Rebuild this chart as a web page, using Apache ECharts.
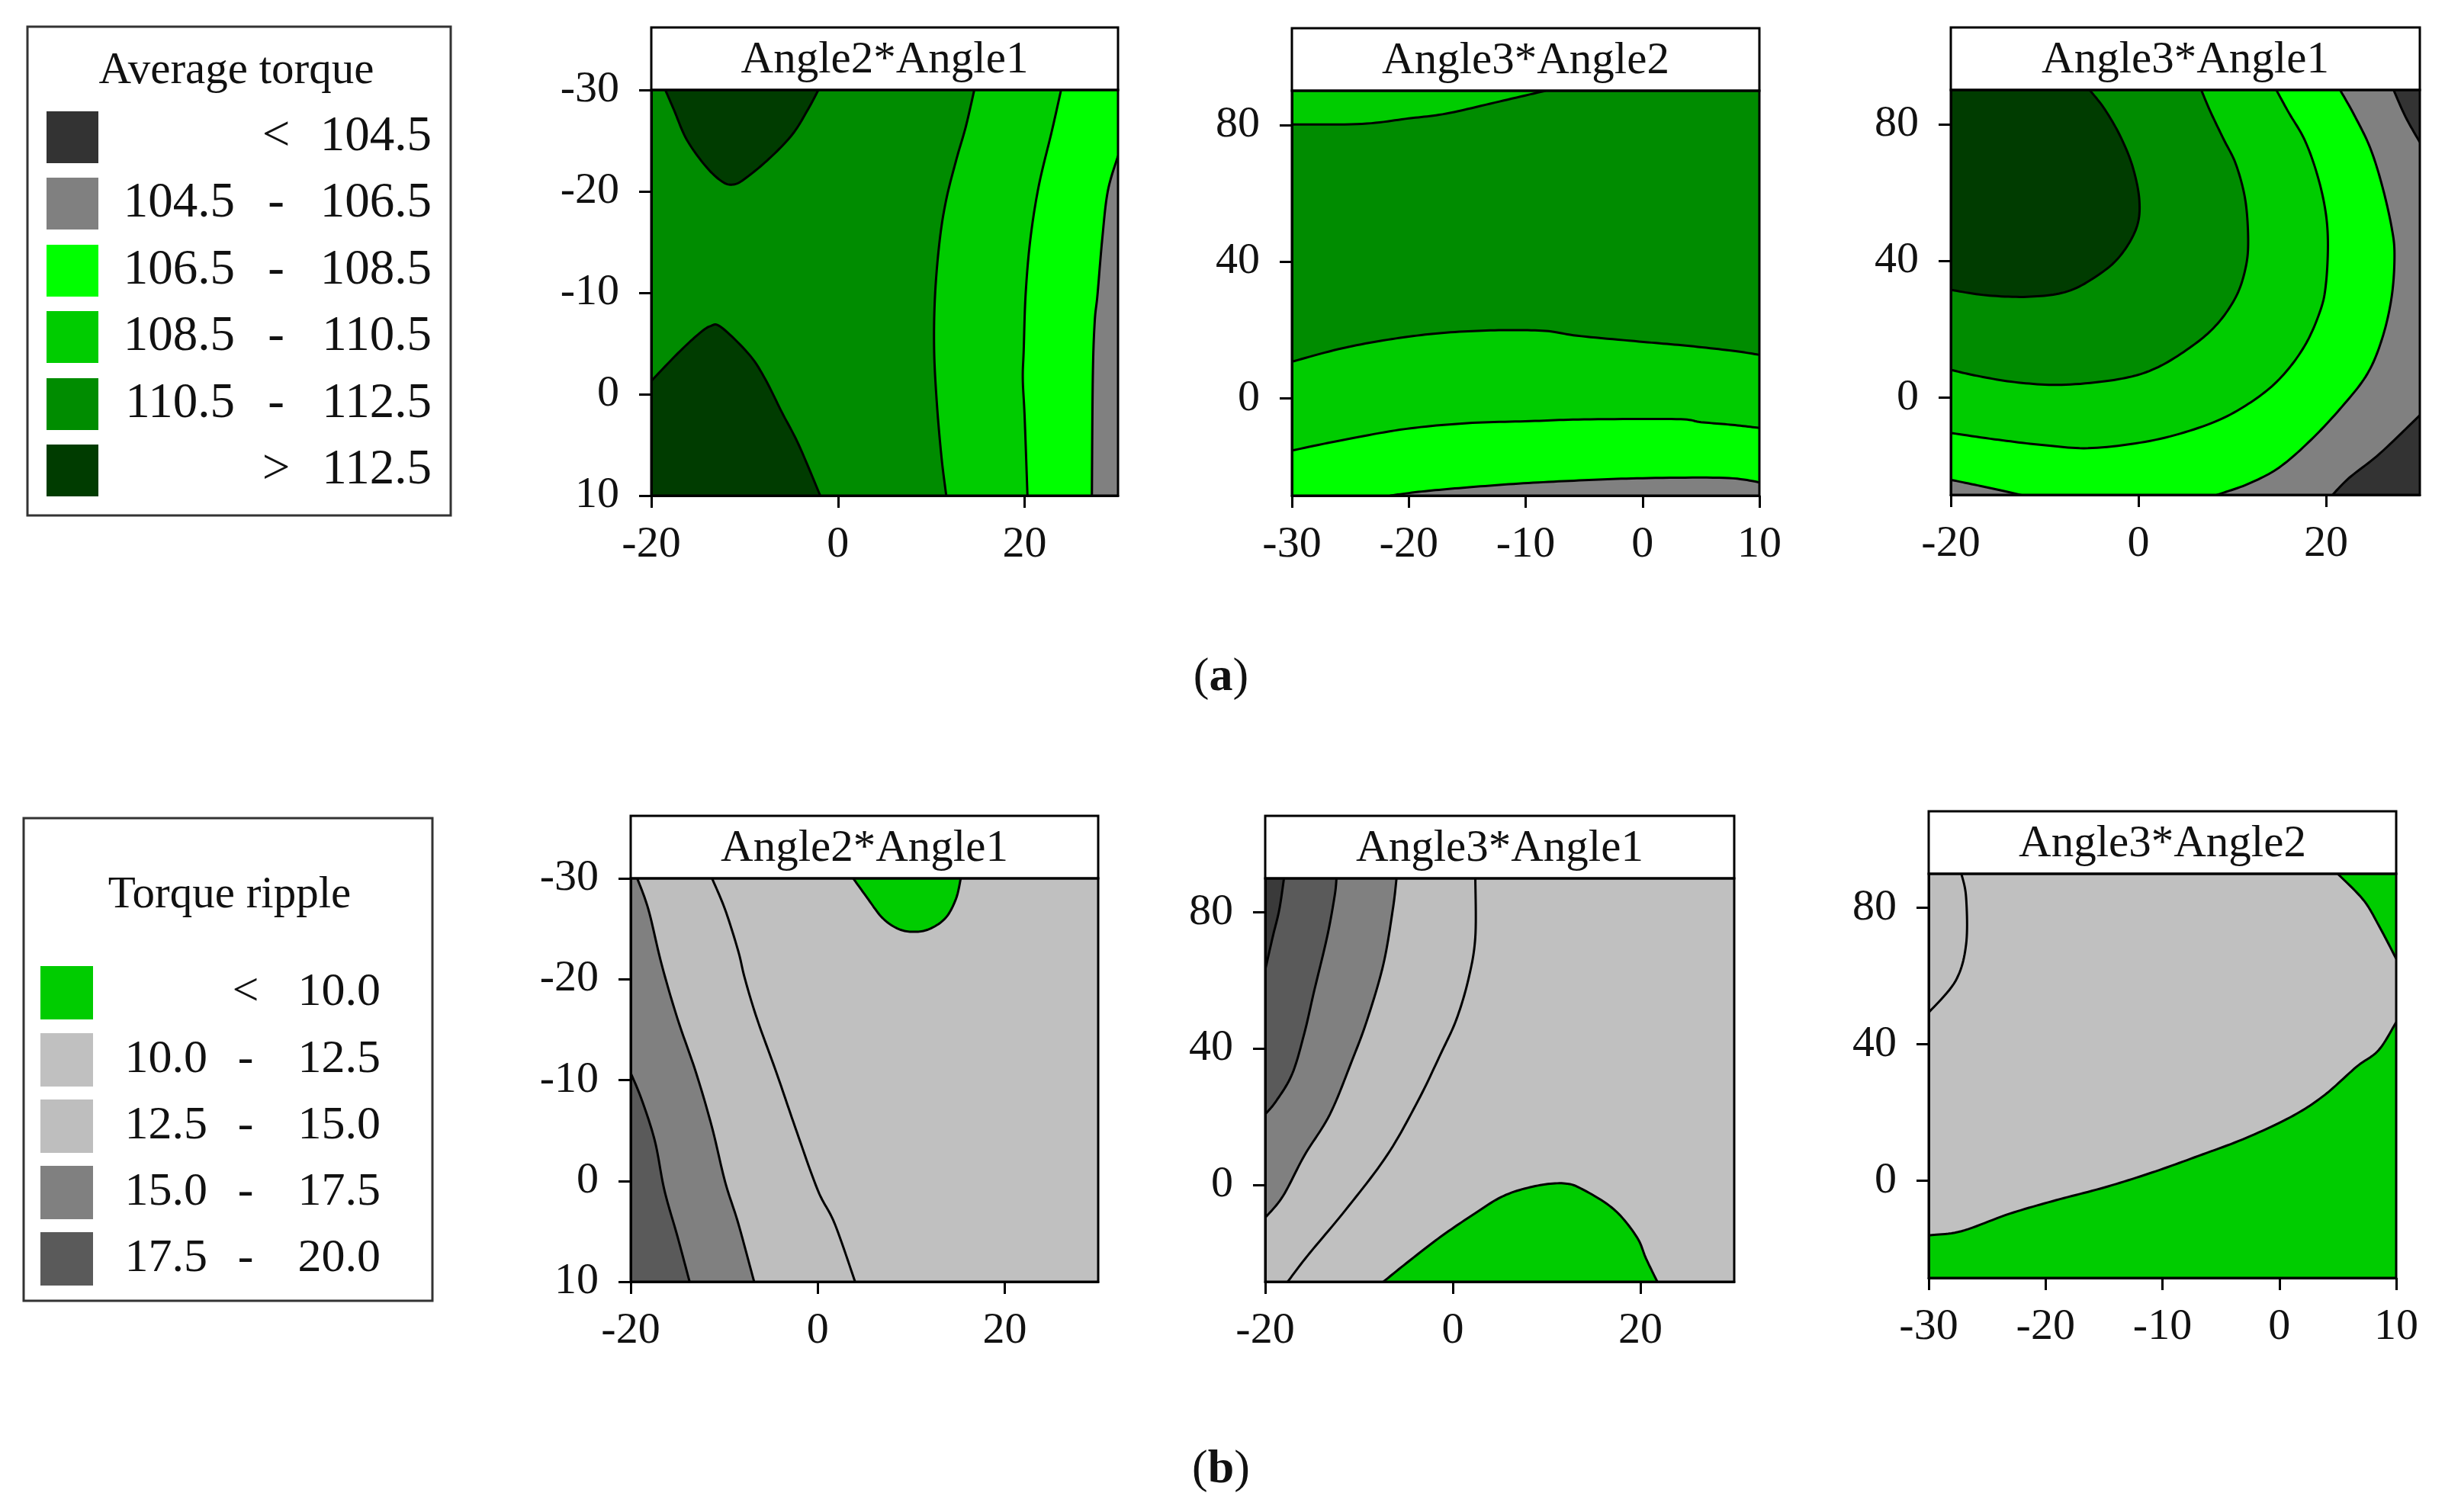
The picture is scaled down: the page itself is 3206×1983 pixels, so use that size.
<!DOCTYPE html>
<html>
<head>
<meta charset="utf-8">
<script src="https://cdn.jsdelivr.net/npm/echarts@6/dist/echarts.min.js"></script>
<style>
  html, body { margin: 0; padding: 0; background: #fff; }
  #main { width: 3206px; height: 1983px; }
</style>
</head>
<body>
<div id="main"></div>
<script>
// legend categories
const torqueLow = ['', '104.5', '106.5', '108.5', '110.5', ''];
const torqueSign = ['<', '-', '-', '-', '-', '>'];
const torqueHigh = ['104.5', '106.5', '108.5', '110.5', '112.5', '112.5'];
const rippleLow = ['', '10.0', '12.5', '15.0', '17.5'];
const rippleSign = ['<', '-', '-', '-', '-'];
const rippleHigh = ['10.0', '12.5', '15.0', '17.5', '20.0'];

// panels
const panelTitles = ['Angle2*Angle1', 'Angle3*Angle2', 'Angle3*Angle1', 'Angle2*Angle1', 'Angle3*Angle1', 'Angle3*Angle2'];
const xRanges = [[-20, 30], [-30, 10], [-20, 30], [-20, 30], [-20, 30], [-30, 10]];
const yRanges = [[-30, 10], [-28.5, 90], [-28.5, 90], [-30, 10], [-28.5, 90], [-28.5, 90]];
const xTicks = [[-20, 0, 20], [-30, -20, -10, 0, 10], [-20, 0, 20], [-20, 0, 20], [-20, 0, 20], [-30, -20, -10, 0, 10]];
const yTicks = [[-30, -20, -10, 0, 10], [0, 40, 80], [0, 40, 80], [-30, -20, -10, 0, 10], [0, 40, 80], [0, 40, 80]];
const yInverse = [true, false, false, true, false, false];

// contour regions: level index, boundary curve (edge) and border points closing it
const a1Base = 4;
const a1Regions = [
  { level: 5, edge: [[-18.5, -30], [-17.6, -28.1], [-16.2, -25.1], [-14.1, -22.4], [-12.3, -20.9], [-11.1, -20.7], [-9.9, -21.3], [-7.4, -23.2], [-4.9, -25.6], [-3.2, -28.1], [-2.1, -30]], close: [] },
  { level: 5, edge: [[-20, -1.3], [-17.3, -3.9], [-15.1, -5.8], [-13.7, -6.7], [-12.5, -6.6], [-9.5, -3.9], [-7.8, -1.5], [-6.0, 1.8], [-4.2, 5.0], [-1.9, 10]], close: [[-20, 10]] },
  { level: 3, edge: [[14.6, -30], [13.7, -26.4], [12.7, -23.2], [11.6, -19.2], [10.9, -15.2], [10.4, -9.8], [10.3, -4.4], [10.6, 1.0], [11.1, 6.3], [11.6, 10]], close: [[30, 10], [30, -30]] },
  { level: 2, edge: [[23.9, -30], [22.9, -25.9], [21.5, -20.5], [20.6, -15.2], [20.1, -9.8], [19.9, -4.4], [19.8, -1.5], [20.0, 2.3], [20.3, 10]], close: [[30, 10], [30, -30]] },
  { level: 1, edge: [[30, -23.5], [28.9, -20.0], [28.3, -15.2], [27.8, -9.8], [27.5, -7.1], [27.3, -1.7], [27.2, 10]], close: [[30, 10]] }
];

const a2Base = 4;
const a2Regions = [
  { level: 3, edge: [[-30, 80.1], [-24, 80.3], [-20, 81.9], [-16.8, 83.3], [-12.3, 86.8], [-8.3, 90]], close: [[-30, 90]] },
  { level: 3, edge: [[-30, 10.7], [-25.6, 14.7], [-21.1, 17.5], [-16.8, 19.2], [-12.3, 19.9], [-8.3, 19.7], [-5.6, 18.3], [-0.3, 16.6], [3.7, 15.4], [7.7, 13.9], [10, 12.7]], close: [[10, -28.5], [-30, -28.5]] },
  { level: 2, edge: [[-30, -15.3], [-25.6, -12.2], [-20.3, -9.0], [-15, -7.3], [-9.6, -6.7], [-5, -6.2], [2.9, -6.1], [5, -7.0], [7.7, -7.8], [10, -8.7]], close: [[10, -28.5], [-30, -28.5]] },
  { level: 1, edge: [[-21.6, -28.5], [-18.9, -27.3], [-15, -26.1], [-10.2, -24.9], [-5, -24.0], [0, -23.4], [7, -23.3], [10, -24.6]], close: [[10, -28.5]] }
];

const a3Base = 1;
const a3Regions = [
  { level: 0, edge: [[27.2, 90], [28.5, 82], [30, 74.7]], close: [[30, 90]] },
  { level: 0, edge: [[30, -5.2], [25.7, -16.5], [22.4, -23.7], [20.2, -30]], close: [[30, -30]] },
  { level: 2, edge: [[21.5, 90], [23, 82.7], [24.7, 73.1], [26, 61.8], [27, 49.7], [27.3, 41.6], [27, 29.5], [26, 17.4], [24.4, 6.9], [21.7, -2.7], [18.4, -12.4], [15, -20.5], [11.7, -25.3], [8.4, -28.5], [7.1, -30]], close: [[-20, -30], [-20, 90]] },
  { level: 1, edge: [[-20, -24.1], [-16.5, -26.1], [-13.2, -28.1], [-10.5, -30]], close: [[-20, -30]] },
  { level: 3, edge: [[14.7, 90], [16, 83.5], [17.7, 75.5], [19, 65.8], [19.9, 55.3], [20.2, 45.6], [20, 33.5], [19.4, 25.5], [17.7, 15], [15, 5.3], [11.7, -1.9], [7.7, -7.6], [1.8, -12.4], [-4.9, -14.8], [-9.9, -14], [-14.9, -12.4], [-20, -10.4]], close: [[-20, 90]] },
  { level: 4, edge: [[6.7, 90], [7.7, 83.5], [9.1, 75.5], [10.4, 68.2], [11.4, 57.7], [11.7, 45.6], [11.4, 37.6], [10.4, 29.5], [8.4, 21.5], [5.7, 15], [1.8, 8.5], [-2.2, 5.3], [-8.2, 3.7], [-13.2, 4.5], [-17.5, 6.5], [-20, 8.1]], close: [[-20, 90]] },
  { level: 5, edge: [[-5.2, 90], [-3.6, 84.4], [-1.9, 76.3], [-0.6, 67.4], [0.1, 57.7], [-0.2, 49.7], [-1.9, 41.6], [-4.2, 36], [-7.5, 31.1], [-11.5, 29.5], [-16.2, 29.9], [-20, 31.5]], close: [[-20, 90]] }
];

const b1Base = 1;
const b1Regions = [
  { level: 2, edge: [[-11.3, -30], [-9.9, -26.9], [-8.5, -22.8], [-7.8, -20.1], [-6.5, -16.1], [-4.4, -10.7], [-2.4, -5.3], [0, 0.9], [1.8, 4.2], [4.0, 10]], close: [[-20, 10], [-20, -30]] },
  { level: 3, edge: [[-19.3, -30], [-18.1, -26.9], [-16.7, -21.5], [-15, -16.1], [-13, -10.7], [-11.3, -5.3], [-9.9, 0.1], [-8.5, 4.2], [-6.8, 10]], close: [[-20, 10], [-20, -30]] },
  { level: 4, edge: [[-20, -10.7], [-18.8, -8.0], [-17.4, -3.9], [-16.4, 0.9], [-15, 5.5], [-13.7, 10]], close: [[-20, 10]] },
  { level: 0, edge: [[3.8, -30], [5.2, -28.2], [6.9, -26.1], [8.6, -25], [10.3, -24.7], [12, -25], [13.7, -26.1], [14.8, -28], [15.3, -30]], close: [] }
];

const b2Base = 1;
const b2Regions = [
  { level: 2, edge: [[2.4, 90], [2.4, 72.8], [1.7, 60.8], [0.4, 48.7], [-1.3, 38.4], [-3.7, 24.7], [-7, 8.7], [-11.4, -7.3], [-15.5, -20.9], [-17.6, -28.5]], close: [[-20, -28.5], [-20, 90]] },
  { level: 3, edge: [[-6, 90], [-6.4, 80.8], [-7.4, 64.8], [-9.1, 48.7], [-10.7, 36.8], [-13.1, 20.7], [-15.8, 8.7], [-18.1, -3.3], [-20, -9.7]], close: [[-20, 90]] },
  { level: 4, edge: [[-12.4, 90], [-12.6, 84.8], [-13.4, 72.8], [-14.8, 56.7], [-15.8, 44.8], [-17.1, 32.7], [-18.8, 24.7], [-20, 20.7]], close: [[-20, 90]] },
  { level: 5, edge: [[-18, 90], [-18.5, 80.8], [-19.2, 72.8], [-20, 63.1]], close: [[-20, 90]] },
  { level: 0, edge: [[-7.4, -28.5], [-4.7, -22.5], [-1.3, -15.3], [2.1, -8.9], [5.4, -3.3], [8.8, -0.4], [11.8, 0.4], [13.8, -1.3], [17.2, -7.3], [19.6, -15.3], [20.6, -21.7], [21.8, -28.5]], close: [] }
];

const b3Base = 1;
const b3Regions = [
  { level: 2, edge: [[-27.2, 90], [-26.8, 83.1], [-26.8, 69.3], [-27.7, 58.6], [-30, 49.3]], close: [[-30, 90]] },
  { level: 0, edge: [[5, 90], [7.2, 82.3], [8.5, 74.9], [10, 65.1]], close: [[10, 90]] },
  { level: 0, edge: [[-30, -16.0], [-27.2, -14.8], [-23.1, -9.7], [-19.1, -5.7], [-15, -2.0], [-10.9, 2.4], [-6.9, 7.3], [-2.8, 12.6], [1.2, 19.1], [3.9, 25.2], [6.6, 33.4], [8.5, 38.3], [10, 46.5]], close: [[10, -28.5], [-30, -28.5]] }
];

const panelBase = [a1Base, a2Base, a3Base, b1Base, b2Base, b3Base];
const panelRegions = [a1Regions, a2Regions, a3Regions, b1Regions, b2Regions, b3Regions];

// styles
const torqueColors = ['#333333', '#808080', '#00ff00', '#00cc00', '#008c00', '#003c00'];
const rippleColors = ['#00cc00', '#c0c0c0', '#bebebe', '#808080', '#5a5a5a', '#3a3a3a'];
const panelColors = [torqueColors, torqueColors, torqueColors, rippleColors, rippleColors, rippleColors];
const FONT = 'Liberation Serif';

const layouts = [
  { left: 854, top: 118, width: 612, height: 532 },
  { left: 1694, top: 119, width: 613, height: 531 },
  { left: 2558, top: 118, width: 615, height: 531 },
  { left: 827, top: 1152, width: 613, height: 529 },
  { left: 1659, top: 1152, width: 615, height: 529 },
  { left: 2529, top: 1146, width: 613, height: 530 }
];
const TITLE_H = 82;

const chart = echarts.init(document.getElementById('main'));

// Catmull-Rom through the read boundary points, in pixel space
function smoothLine(pts) {
  const n = pts.length;
  if (n < 3) return pts;
  const out = [];
  for (let i = 0; i < n - 1; i++) {
    const p0 = pts[Math.max(i - 1, 0)], p1 = pts[i], p2 = pts[i + 1], p3 = pts[Math.min(i + 2, n - 1)];
    for (let s = 0; s < 12; s++) {
      const t = s / 12, t2 = t * t, t3 = t2 * t;
      const f = k => 0.5 * (2 * p1[k] + (p2[k] - p0[k]) * t + (2 * p0[k] - 5 * p1[k] + 4 * p2[k] - p3[k]) * t2 + (3 * p1[k] - p0[k] - 3 * p2[k] + p3[k]) * t3);
      out.push([f(0), f(1)]);
    }
  }
  out.push(pts[n - 1]);
  return out;
}

function makeRender(regions, colors) {
  return function (params, api) {
    const r = regions[params.dataIndex];
    const line = smoothLine(r.edge.map(p => api.coord(p)));
    const poly = line.concat(r.close.map(p => api.coord(p)));
    return {
      type: 'group',
      children: [
        { type: 'polygon', z2: params.dataIndex, shape: { points: poly }, style: { fill: colors[r.level] } },
        { type: 'polyline', z2: 100 + params.dataIndex, shape: { points: line }, style: { stroke: '#000', lineWidth: 3, fill: 'none' } }
      ]
    };
  };
}

function textEl(text, x, y, size, align) {
  return {
    type: 'text', x: x, y: y, z: 80, silent: true,
    style: {
      text: text, fontSize: size, fontFamily: FONT, fill: '#111',
      align: align, textAlign: align, verticalAlign: 'middle', textVerticalAlign: 'middle'
    }
  };
}

const grids = [], xAxes = [], yAxes = [], series = [], graphics = [];

layouts.forEach((l, i) => {
  grids.push({ left: l.left, top: l.top, width: l.width, height: l.height, show: true,
    backgroundColor: panelColors[i][panelBase[i]], borderWidth: 0, outerBoundsMode: 'none' });
  xAxes.push({
    gridIndex: i, type: 'value', min: xRanges[i][0], max: xRanges[i][1], z: 10,
    axisLine: { show: true, onZero: false, lineStyle: { color: '#000', width: 3 } },
    axisTick: { show: true, length: 16, customValues: xTicks[i], lineStyle: { color: '#000', width: 3 } },
    axisLabel: { customValues: xTicks[i], fontFamily: FONT, fontSize: 58, color: '#111', margin: 36 },
    splitLine: { show: false }
  });
  yAxes.push({
    gridIndex: i, type: 'value', min: yRanges[i][0], max: yRanges[i][1], inverse: yInverse[i], z: 10,
    axisLine: { show: true, onZero: false, lineStyle: { color: '#000', width: 3 } },
    axisTick: { show: true, length: 16, customValues: yTicks[i], lineStyle: { color: '#000', width: 3 } },
    axisLabel: { customValues: yTicks[i], fontFamily: FONT, fontSize: 58, color: '#111', margin: 42 },
    splitLine: { show: false }
  });
  series.push({
    type: 'custom', xAxisIndex: i, yAxisIndex: i, clip: true, silent: true,
    renderItem: makeRender(panelRegions[i], panelColors[i]),
    data: panelRegions[i].map(r => r.edge[0])
  });
  // title box and frame
  graphics.push({ type: 'rect', z: 70, silent: true,
    shape: { x: l.left, y: l.top - TITLE_H, width: l.width, height: TITLE_H },
    style: { fill: '#fff', stroke: '#000', lineWidth: 3 } });
  graphics.push(textEl(panelTitles[i], l.left + l.width / 2, l.top - TITLE_H / 2 + 2, 59, 'center'));
  graphics.push({ type: 'rect', z: 75, silent: true,
    shape: { x: l.left, y: l.top, width: l.width, height: l.height },
    style: { fill: 'none', stroke: '#000', lineWidth: 3 } });
});

// legends
function legend(box, title, low, sign, high, colors, rowY, sw, cols, size) {
  graphics.push({ type: 'rect', z: 70, silent: true,
    shape: { x: box.x, y: box.y, width: box.w, height: box.h },
    style: { fill: '#fff', stroke: '#333', lineWidth: 3 } });
  graphics.push(textEl(title, box.titleX, box.titleY, 59, 'center'));
  rowY.forEach((y, k) => {
    graphics.push({ type: 'rect', z: 72, silent: true,
      shape: { x: sw.x, y: y - sw.h / 2, width: sw.w, height: sw.h },
      style: { fill: colors[k] } });
    if (low[k]) graphics.push(textEl(low[k], cols.low, y, size, 'right'));
    graphics.push(textEl(sign[k], cols.sign, y, size, 'center'));
    graphics.push(textEl(high[k], cols.high, y, size, 'right'));
  });
}

legend({ x: 36, y: 35, w: 555, h: 641, titleX: 310, titleY: 93 }, 'Average torque',
  torqueLow, torqueSign, torqueHigh, torqueColors,
  [180, 267, 355, 442, 530, 617], { x: 61, w: 68, h: 68 }, { low: 308, sign: 362, high: 566 }, 65);

legend({ x: 31, y: 1073, w: 536, h: 633, titleX: 301, titleY: 1174 }, 'Torque ripple',
  rippleLow, rippleSign, rippleHigh, rippleColors,
  [1302, 1390, 1477, 1564, 1651], { x: 53, w: 69, h: 70 }, { low: 272, sign: 322, high: 499 }, 62);

// sub-figure labels
const richB = { b: { fontWeight: 'bold', fontSize: 62, fontFamily: FONT, fill: '#111' } };
const labA = textEl('({b|a})', 1601, 889, 62, 'center');
const labB = textEl('({b|b})', 1601, 1928, 62, 'center');
labA.style.rich = richB;
labB.style.rich = richB;
graphics.push(labA, labB);

chart.setOption({
  animation: false,
  grid: grids,
  xAxis: xAxes,
  yAxis: yAxes,
  series: series,
  graphic: { elements: graphics }
});
</script>
</body>
</html>
